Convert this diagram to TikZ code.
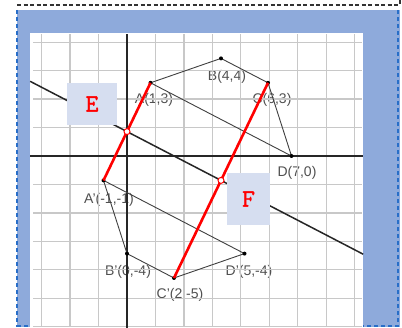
\documentclass[tikz,border=0pt]{standalone}
\usepackage{fontspec}
\setmainfont{Liberation Sans}
\newfontfamily\slabf[FakeBold=1.6]{Latin Modern Mono}
\definecolor{framefill}{RGB}{142,170,219}
\definecolor{dashblue}{RGB}{40,110,200}
\definecolor{gridgray}{RGB}{200,200,200}
\definecolor{boxfill}{RGB}{214,222,240}
\definecolor{labgray}{RGB}{80,80,80}
\tikzset{
  gridline/.style={draw=gridgray, line width=1.3pt},
  axisline/.style={draw=black!85, line width=1.6pt},
  polyline/.style={draw=black!75, line width=0.9pt},
  mirror/.style={draw=black!85, line width=1.5pt},
  redseg/.style={draw=red, line width=2.6pt},
  vdot/.style={circle, fill=black, inner sep=0pt, minimum size=4pt},
  midmark/.style={circle, draw=red, fill=white, line width=1pt, inner sep=0pt, minimum size=6pt},
  ptlabel/.style={text=labgray, font=\fontsize{14}{16}\selectfont, inner sep=0pt},
  letterbox/.style={fill=boxfill, text=red, font=\slabf\fontsize{25}{27}\selectfont, inner sep=0pt},
  bluedash/.style={draw=dashblue, line width=1.3pt, dash pattern=on 4pt off 3pt},
  blackdash/.style={draw=black!80, line width=1.1pt, dash pattern=on 4pt off 2.5pt}
}
\begin{document}
\begin{tikzpicture}[x=1pt,y=1pt]
\useasboundingbox (0,0) rectangle (402,327);
\fill[white] (0,0) rectangle (402,327);
% outer frame
\draw[blackdash] (17,322) -- (400,322);
\draw[blackdash] (400,327) -- (400,322);
\fill[framefill] (17,0) rectangle (400,317);
\draw[bluedash] (17,317) -- (17,0);
\draw[bluedash] (398,317) -- (398,0);
\draw[bluedash] (17,1) -- (398,1);
\fill[white] (30,0) rectangle (363,294);
% labels (under lines)
\node[ptlabel] (lA) at (154,227) {A(1,3)};
\node[ptlabel] (lB) at (227,250) {B(4,4)};
\node[ptlabel] (lC) at (272,227) {C(6,3)};
\node[ptlabel] (lD) at (297,154) {D(7,0)};
\node[ptlabel] (lA2) at (109,127) {A'(-1,-1)};
\node[ptlabel] (lB2) at (128,55) {B'(0,-4)};
\node[ptlabel] (lC2) at (180,32) {C'(2,-5)};
\node[ptlabel] (lD2) at (249,55) {D'(5,-4)};
\begin{scope}[shift={(127,171)}, x=23.5pt, y=24.4pt]
  \begin{scope}
    \clip (-4.12,-7.1) rectangle (10.05,5);
    \draw[gridline] (-4,-7) grid (10,5);
  \end{scope}
  \draw[axisline] (-4.12,0) -- (10.05,0);
  \draw[axisline] (0,-7.1) -- (0,5);
  \coordinate (A) at (1,3);
  \coordinate (B) at (4,4);
  \coordinate (C) at (6,3);
  \coordinate (D) at (7,0);
  \coordinate (A2) at (-1,-1);
  \coordinate (B2) at (0,-4);
  \coordinate (C2) at (2,-5);
  \coordinate (D2) at (5,-4);
  \coordinate (L1) at (-4.12,3.06);
  \coordinate (L2) at (10.05,-4.025);
  \draw[polyline] (A) -- (B) -- (C) -- (D) -- cycle;
  \draw[polyline] (A2) -- (B2) -- (C2) -- (D2) -- cycle;
  \draw[mirror] (L1) -- (L2);
  \foreach \p in {A,B,C,D,A2,B2,C2,D2} \node[vdot] at (\p) {};
  \draw[redseg] (A) -- (A2);
  \draw[redseg] (C) -- (C2);
  \node[midmark] (mE) at (0,1) {};
  \node[midmark] (mF) at (4,-1) {};
\end{scope}
\node[letterbox, minimum width=50pt, minimum height=42pt] (E) at (92,223) {E};
\node[letterbox, minimum width=43pt, minimum height=52pt] (F) at (248.5,128) {F};
\end{tikzpicture}
\end{document}
